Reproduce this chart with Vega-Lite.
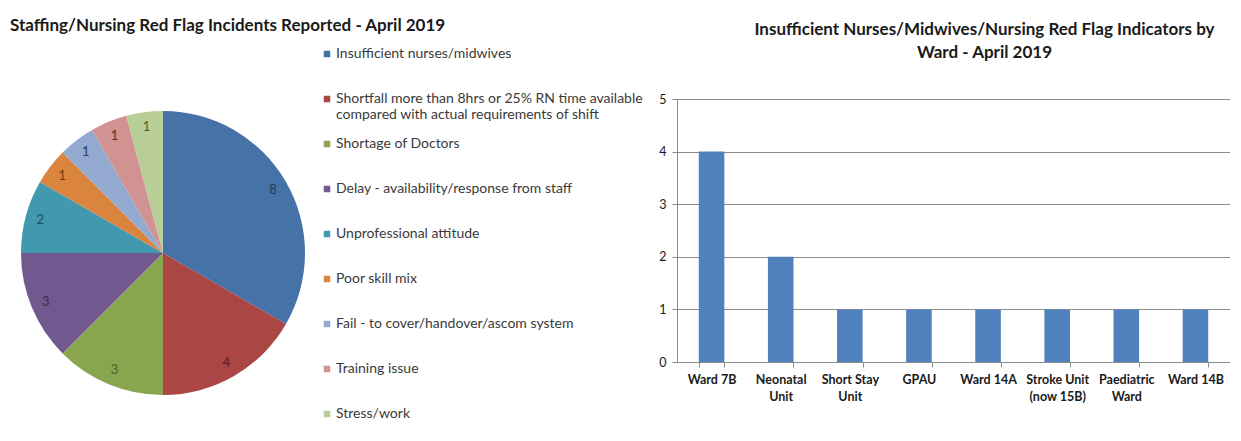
{
  "$schema": "https://vega.github.io/schema/vega-lite/v6.json",
  "background": "white",
  "padding": {"left": 7, "top": 17, "right": 0, "bottom": 0},
  "bounds": "flush",
  "spacing": 358,
  "config": {
    "font": "Lato",
    "view": {"stroke": null}
  },
  "datasets": {
    "incidents": [
      {"category": "Insufficient nurses/midwives", "count": 8},
      {"category": "Shortfall more than 8hrs or 25% RN time available compared with actual requirements of shift", "count": 4},
      {"category": "Shortage of Doctors", "count": 3},
      {"category": "Delay - availability/response from staff", "count": 3},
      {"category": "Unprofessional attitude", "count": 2},
      {"category": "Poor skill mix", "count": 1},
      {"category": "Fail - to cover/handover/ascom system", "count": 1},
      {"category": "Training issue", "count": 1},
      {"category": "Stress/work", "count": 1}
    ],
    "wards": [
      {"ward": "Ward 7B", "count": 4},
      {"ward": "Neonatal Unit", "count": 2},
      {"ward": "Short Stay Unit", "count": 1},
      {"ward": "GPAU", "count": 1},
      {"ward": "Ward 14A", "count": 1},
      {"ward": "Stroke Unit (now 15B)", "count": 1},
      {"ward": "Paediatric Ward", "count": 1},
      {"ward": "Ward 14B", "count": 1}
    ]
  },
  "hconcat": [
    {
      "width": 312,
      "height": 308,
      "data": {"name": "incidents"},
      "title": {
        "text": "Staffing/Nursing Red Flag Incidents Reported - April 2019",
        "anchor": "start",
        "frame": "group",
        "fontSize": 17,
        "fontWeight": "bold",
        "color": "#1a1a1a",
        "offset": 12,
        "dx": 3
      },
      "encoding": {
        "theta": {"field": "count", "type": "quantitative", "stack": true},
        "order": {"field": "count", "type": "quantitative", "sort": "descending"}
      },
      "layer": [
        {
          "mark": {"type": "arc", "outerRadius": 142},
          "encoding": {
            "color": {
              "field": "category",
              "type": "nominal",
              "scale": {
                "domain": [
                  "Insufficient nurses/midwives",
                  "Shortfall more than 8hrs or 25% RN time available compared with actual requirements of shift",
                  "Shortage of Doctors",
                  "Delay - availability/response from staff",
                  "Unprofessional attitude",
                  "Poor skill mix",
                  "Fail - to cover/handover/ascom system",
                  "Training issue",
                  "Stress/work"
                ],
                "range": ["#4572A7", "#AA4643", "#89A54E", "#71588F", "#4198AF", "#DB843D", "#93A9CF", "#D19392", "#B9CD96"]
              },
              "legend": {
                "title": null,
                "orient": "none",
                "legendX": 313,
                "legendY": -52,
                "padding": 0,
                "symbolType": "square",
                "symbolSize": 42,
                "symbolStrokeWidth": 0,
                "labelFontSize": 14,
                "labelColor": "#3a3a3a",
                "labelLimit": 400,
                "labelOffset": 2,
                "rowPadding": 15,
                "gridAlign": "all",
                "labelExpr": "indexof(datum.label, ' compared') > 0 ? [slice(datum.label, 0, indexof(datum.label, ' compared')), slice(datum.label, indexof(datum.label, ' compared') + 1)] : datum.label"
              }
            }
          }
        },
        {
          "mark": {"type": "text", "radius": 127, "fontSize": 13},
          "encoding": {
            "text": {"field": "count", "type": "quantitative"},
            "color": {
              "field": "category",
              "type": "nominal",
              "scale": {
                "domain": [
                  "Insufficient nurses/midwives",
                  "Shortfall more than 8hrs or 25% RN time available compared with actual requirements of shift",
                  "Shortage of Doctors",
                  "Delay - availability/response from staff",
                  "Unprofessional attitude",
                  "Poor skill mix",
                  "Fail - to cover/handover/ascom system",
                  "Training issue",
                  "Stress/work"
                ],
                "range": ["#1F3A5F", "#5C1B19", "#4B6126", "#3A2A52", "#1C4F5E", "#6E3A10", "#2D3E5E", "#5C2A29", "#4D5E2E"]
              },
              "legend": null
            }
          }
        }
      ],
      "resolve": {"scale": {"color": "independent"}, "legend": {"color": "independent"}}
    },
    {
      "width": 553,
      "height": 263,
      "data": {"name": "wards"},
      "title": {
        "text": ["Insufficient Nurses/Midwives/Nursing Red Flag Indicators by", "Ward - April 2019"],
        "anchor": "middle",
        "frame": "group",
        "fontSize": 17,
        "fontWeight": "bold",
        "lineHeight": 23,
        "color": "#1a1a1a",
        "offset": 31,
        "dx": 31
      },
      "mark": {"type": "bar", "color": "#4F81BD"},
      "encoding": {
        "x": {
          "field": "ward",
          "type": "nominal",
          "sort": null,
          "scale": {"paddingInner": 0.63, "paddingOuter": 0.315},
          "axis": {
            "title": null,
            "labelAngle": 0,
            "labelFontSize": 12.5,
            "labelFontWeight": "bold",
            "labelColor": "#1a1a1a",
            "labelPadding": 6,
            "labelLineHeight": 17,
            "domainColor": "#8c8c8c",
            "tickColor": "#8c8c8c",
            "tickSize": 5,
            "tickBand": "extent",
            "labelExpr": "datum.value == 'Neonatal Unit' ? ['Neonatal', 'Unit'] : datum.value == 'Short Stay Unit' ? ['Short Stay', 'Unit'] : datum.value == 'Stroke Unit (now 15B)' ? ['Stroke Unit', '(now 15B)'] : datum.value == 'Paediatric Ward' ? ['Paediatric', 'Ward'] : datum.label"
          }
        },
        "y": {
          "field": "count",
          "type": "quantitative",
          "scale": {"domain": [0, 5], "nice": false},
          "axis": {
            "title": null,
            "values": [0, 1, 2, 3, 4, 5],
            "grid": true,
            "gridColor": "#8c8c8c",
            "domainColor": "#8c8c8c",
            "tickColor": "#8c8c8c",
            "tickSize": 5,
            "labelFontSize": 12.5,
            "labelColor": "#1a1a1a",
            "labelPadding": 6
          }
        }
      }
    }
  ]
}
